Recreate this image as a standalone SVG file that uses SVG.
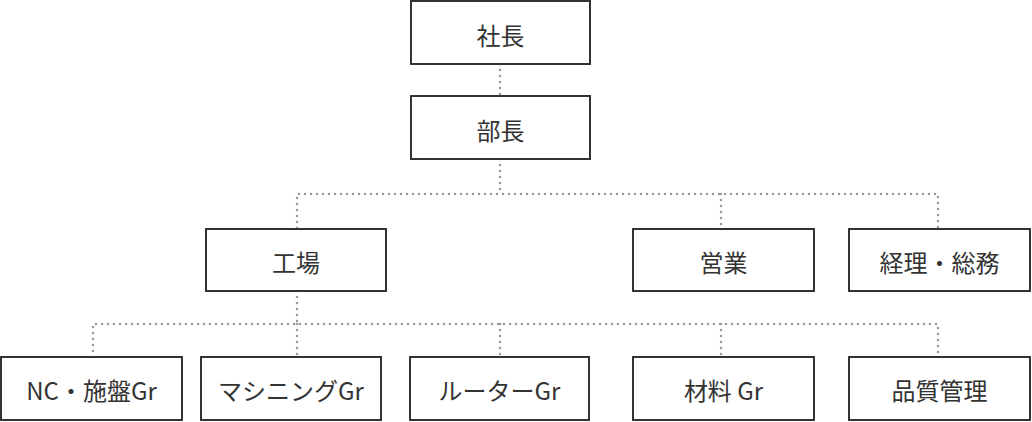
<svg xmlns="http://www.w3.org/2000/svg" width="1032" height="422" viewBox="0 0 1032 422">
<style>
.box{fill:#fff;stroke:#333;stroke-width:2}
.lbl{font-family:"Noto Sans CJK JP","Noto Sans",sans-serif;font-size:24px;fill:#333;text-anchor:middle;dominant-baseline:central}
.con{fill:none;stroke:#999;stroke-width:2.5;stroke-linecap:round;stroke-dasharray:0 6}
</style>
<rect width="1032" height="422" fill="#fff"/>
<g id="connectors">
<path class="con" d="M500 64V96"/>
<path class="con" d="M500 159V194"/>
<path class="con" d="M297 228V194H938V228"/>
<path class="con" d="M721 194V228"/>
<path class="con" d="M297 291V324"/>
<path class="con" d="M93 357V324H938V357"/>
<path class="con" d="M297 324V357"/>
<path class="con" d="M500 324V357"/>
<path class="con" d="M721 324V357"/>
</g>
<g id="n-shacho"><rect class="box" x="411" y="1" width="179" height="63"/><text class="lbl" x="500.5" y="34">社長</text></g>
<g id="n-bucho"><rect class="box" x="411" y="96" width="179" height="63"/><text class="lbl" x="500.5" y="129">部長</text></g>
<g id="n-kojo"><rect class="box" x="206" y="229" width="180" height="62"/><text class="lbl" x="296" y="261">工場</text></g>
<g id="n-eigyo"><rect class="box" x="633" y="229" width="181" height="62"/><text class="lbl" x="723.5" y="261">営業</text></g>
<g id="n-keiri"><rect class="box" x="849" y="229" width="181" height="62"/><text class="lbl" x="939.5" y="261">経理・総務</text></g>
<g id="n-nc"><rect class="box" x="1" y="357" width="181" height="63"/><text class="lbl" x="91.5" y="389">NC・施盤Gr</text></g>
<g id="n-machining"><rect class="box" x="201" y="357" width="180" height="63"/><text class="lbl" x="291" y="389">マシニングGr</text></g>
<g id="n-router"><rect class="box" x="410" y="357" width="179" height="63"/><text class="lbl" x="499.5" y="389">ルーターGr</text></g>
<g id="n-zairyo"><rect class="box" x="633" y="357" width="181" height="63"/><text class="lbl" x="723.5" y="389">材料 Gr</text></g>
<g id="n-hinshitsu"><rect class="box" x="849" y="357" width="181" height="63"/><text class="lbl" x="939.5" y="389">品質管理</text></g>
</svg>
